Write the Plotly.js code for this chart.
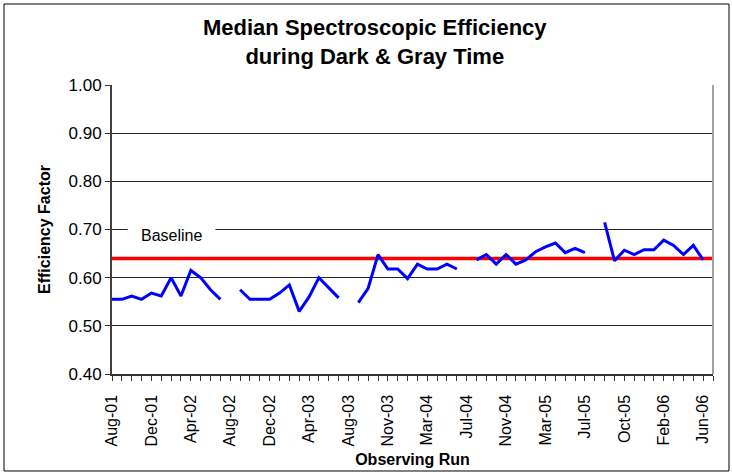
<!DOCTYPE html>
<html>
<head>
<meta charset="utf-8">
<script src="https://cdn.plot.ly/plotly-3.0.1.min.js"></script>
<style>
  html, body { margin: 0; padding: 0; background: #fff; }
  #chart { width: 732px; height: 475px; }
</style>
</head>
<body>
<div id="chart"></div>
<script>
// Observing-run tick labels (every 4th run is labelled)
const tickLabels = ["Aug-01","Dec-01","Apr-02","Aug-02","Dec-02","Apr-03","Aug-03","Nov-03",
                    "Mar-04","Jul-04","Nov-04","Mar-05","Jul-05","Oct-05","Feb-06","Jun-06"];
// Median spectroscopic efficiency per observing run (null = no data)
const efficiency = [
  0.555, 0.555, 0.562, 0.555, 0.568, 0.562, 0.600, 0.562, 0.615, 0.600, 0.575, 0.555,
  null,  0.575, 0.555, 0.555, 0.555, 0.568, 0.585, 0.530, 0.560, 0.600, 0.578, 0.558,
  null,  0.548, 0.578, 0.648, 0.618, 0.618, 0.598, 0.628, 0.618, 0.618, 0.628, 0.618,
  null,  0.637, 0.648, 0.628, 0.648, 0.628, 0.637, 0.654, 0.664, 0.672, 0.652, 0.661,
  0.652, null,  0.715, 0.635, 0.657, 0.648, 0.658, 0.658, 0.678, 0.667, 0.648, 0.667,
  0.637
];
const baselineValue = 0.64;
const totalRuns = 62;

const runIndex = efficiency.map((_, i) => i);
const tickVals = [];
const tickText = [];
for (let i = 0; i < totalRuns; i++) {
  tickVals.push(i);
  tickText.push(i % 4 === 0 && tickLabels[i / 4] ? tickLabels[i / 4] : "");
}

const FONT = '"Liberation Sans", Arial, sans-serif';

const traces = [
  {
    x: [0, totalRuns - 1], y: [baselineValue, baselineValue],
    mode: 'lines', line: { color: '#FF0000', width: 3.5 },
    name: 'Baseline', hoverinfo: 'skip'
  },
  {
    x: runIndex, y: efficiency,
    mode: 'lines', connectgaps: false,
    line: { color: '#0000FF', width: 3 },
    name: 'Efficiency'
  }
];

const layout = {
  width: 732, height: 475,
  margin: { l: 112, r: 19, t: 85, b: 101 },
  paper_bgcolor: '#FFFFFF', plot_bgcolor: '#FFFFFF',
  showlegend: false,
  font: { family: FONT, color: '#000' },
  title: {
    text: 'Median Spectroscopic Efficiency<br>during Dark & Gray Time',
    font: { family: FONT, size: 22, weight: 'bold', color: '#000' },
    x: 0.512, xref: 'container', xanchor: 'center',
    y: 0.926, yref: 'container', yanchor: 'middle'
  },
  xaxis: {
    range: [0, totalRuns - 1],
    tickmode: 'array', tickvals: tickVals, ticktext: tickText,
    tickangle: -90, ticks: 'outside', ticklen: 5, tickcolor: '#333', tickwidth: 1,
    ticklabelstandoff: 8,
    tickfont: { family: FONT, size: 16, color: '#000' },
    showgrid: false, zeroline: false,
    showline: true, linecolor: '#333', linewidth: 1.5,
    title: { text: 'Observing Run', font: { family: FONT, size: 16, weight: 'bold' }, standoff: 8 },
    automargin: false
  },
  yaxis: {
    range: [0.40, 1.00],
    tickmode: 'array', tickvals: [0.4,0.5,0.6,0.7,0.8,0.9,1.0],
    ticktext: ['0.40','0.50','0.60','0.70','0.80','0.90','1.00'],
    ticks: 'outside', ticklen: 5, tickcolor: '#333', tickwidth: 1,
    tickfont: { family: FONT, size: 17, color: '#000' },
    showgrid: true, gridcolor: '#262626', gridwidth: 1,
    zeroline: false,
    showline: true, linecolor: '#404040', linewidth: 2,
    title: { text: 'Efficiency Factor', font: { family: FONT, size: 16, weight: 'bold' }, standoff: 14 },
    automargin: false
  },
  shapes: [
    // white gap in the 0.70 gridline behind the Baseline label
    { type: 'rect', xref: 'x', yref: 'y', x0: 1.6, x1: 10.5, y0: 0.69, y1: 0.71,
      fillcolor: '#FFFFFF', line: { width: 0 }, layer: 'between' },
    // right plot-area border
    { type: 'line', xref: 'paper', yref: 'paper', x0: 1, x1: 1, y0: 0, y1: 1,
      line: { color: '#A0A0A0', width: 2 } },
    // chart outer border
    { type: 'rect', xref: 'paper', yref: 'paper',
      x0: -0.1797, x1: 1.0266, y0: -0.3356, y1: 1.2803,
      line: { color: '#000', width: 1 }, fillcolor: 'rgba(0,0,0,0)' }
  ],
  annotations: [
    { text: 'Baseline', xref: 'x', yref: 'y', x: 6.06, y: 0.688,
      showarrow: false, font: { family: FONT, size: 16, color: '#000' } }
  ]
};

Plotly.newPlot('chart', traces, layout, { displayModeBar: false, staticPlot: true });
</script>
</body>
</html>
